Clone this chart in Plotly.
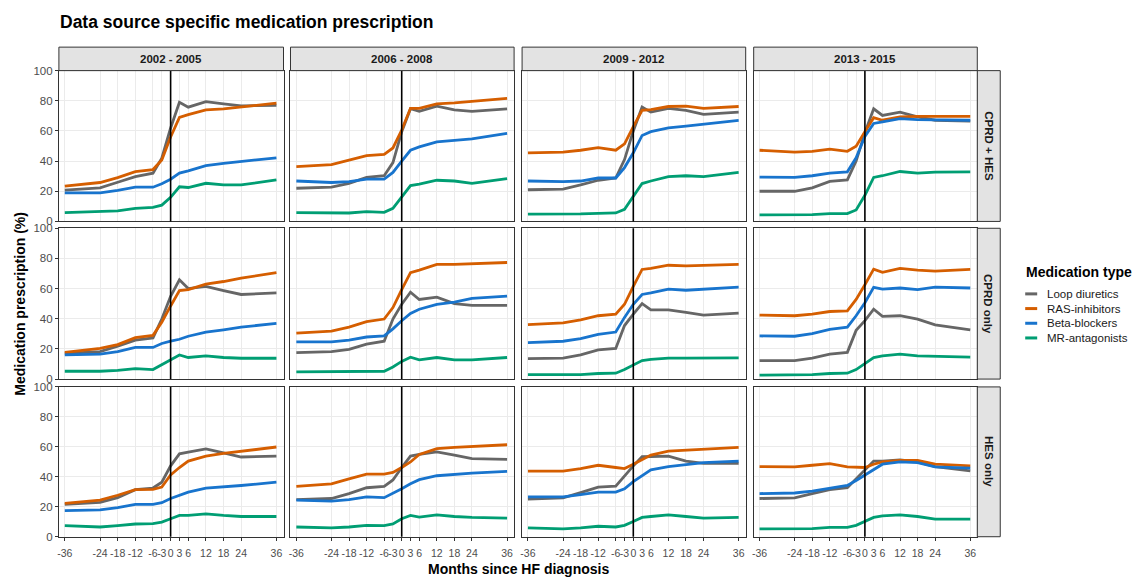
import plotly.graph_objects as go

months = [-36, -24, -18, -12, -6, -3, 0, 3, 6, 12, 18, 24, 36]
month_labels = [str(m) for m in months]
periods = ["2002 - 2005", "2006 - 2008", "2009 - 2012", "2013 - 2015"]
sources = ["CPRD + HES", "CPRD only", "HES only"]
medications = ["Loop diuretics", "RAS-inhibitors", "Beta-blockers", "MR-antagonists"]
colors = ["#666666", "#D55E00", "#1874CD", "#009E73"]

# one list per period (2002-2005, 2006-2008, 2009-2012, 2013-2015)
loop_cprd_hes = [
    [20.8, 22.3, 26.0, 29.7, 32.0, 42.0, 62.0, 79.0, 75.8, 79.4, 78.0, 76.6, 77.0],
    [22.0, 22.7, 25.3, 29.2, 30.3, 39.0, 59.5, 74.7, 73.0, 76.4, 74.0, 73.0, 74.7],
    [21.0, 21.4, 24.2, 27.3, 28.8, 41.0, 60.0, 75.8, 72.5, 75.0, 73.6, 71.0, 72.5],
    [20.0, 20.0, 22.3, 26.6, 27.5, 40.0, 58.9, 74.7, 70.3, 72.5, 69.3, 67.1, 66.5],
]
ras_cprd_hes = [
    [23.4, 25.8, 29.0, 33.0, 34.4, 40.7, 56.0, 69.0, 70.8, 74.0, 74.7, 76.0, 78.4],
    [36.4, 37.7, 40.7, 43.7, 44.4, 48.7, 60.6, 75.0, 75.0, 78.0, 78.6, 79.6, 81.6],
    [45.5, 45.9, 47.2, 48.9, 47.2, 51.5, 62.8, 73.6, 74.2, 76.2, 76.4, 75.0, 76.2],
    [47.2, 45.9, 46.5, 48.0, 46.5, 49.8, 59.5, 68.8, 67.1, 69.3, 69.7, 69.7, 69.7],
]
beta_cprd_hes = [
    [19.0, 19.0, 20.6, 22.7, 22.7, 25.0, 28.0, 32.0, 33.5, 37.0, 38.5, 39.6, 42.2],
    [26.8, 25.8, 26.4, 28.1, 28.1, 32.5, 40.0, 47.2, 49.4, 52.8, 53.7, 54.8, 58.4],
    [26.8, 26.4, 26.8, 28.8, 28.8, 35.7, 45.5, 57.0, 59.5, 62.0, 63.2, 64.5, 67.0],
    [29.4, 29.2, 30.3, 32.0, 32.9, 42.2, 56.3, 65.0, 66.0, 68.2, 67.5, 67.5, 67.1],
]
mra_cprd_hes = [
    [5.8, 6.5, 7.0, 8.7, 9.3, 10.8, 16.0, 23.0, 22.5, 25.3, 24.2, 24.2, 27.5],
    [5.8, 5.4, 5.6, 6.5, 6.0, 8.7, 16.2, 23.8, 24.7, 27.3, 26.8, 25.3, 28.4],
    [4.8, 4.8, 5.0, 5.4, 5.6, 8.0, 16.9, 25.1, 26.8, 29.7, 30.3, 29.7, 32.5],
    [4.3, 4.3, 4.5, 5.2, 5.2, 7.6, 17.3, 29.2, 30.3, 33.1, 32.0, 32.7, 32.9],
]

loop_cprd_only = [
    [17.1, 18.2, 21.9, 25.8, 27.3, 39.8, 54.9, 65.8, 60.0, 61.5, 58.7, 56.1, 57.1],
    [17.5, 18.2, 19.7, 23.2, 25.1, 39.8, 49.6, 57.6, 52.8, 54.3, 50.0, 48.9, 48.9],
    [13.6, 13.9, 16.0, 19.3, 20.3, 35.5, 43.1, 50.0, 45.9, 45.9, 44.2, 42.4, 43.7],
    [12.3, 12.3, 13.9, 16.5, 17.7, 32.3, 38.7, 46.3, 41.6, 42.0, 39.8, 35.9, 32.7],
]
ras_cprd_only = [
    [17.7, 20.3, 22.9, 27.5, 29.0, 37.7, 48.5, 58.7, 59.3, 63.0, 64.7, 66.9, 70.6],
    [30.5, 31.8, 34.4, 38.1, 39.8, 47.4, 59.3, 70.6, 72.3, 76.0, 76.0, 76.6, 77.3],
    [36.1, 37.2, 39.2, 42.0, 43.1, 49.6, 61.5, 72.7, 73.4, 75.5, 75.1, 75.5, 76.0],
    [42.4, 42.0, 43.1, 44.8, 45.2, 52.8, 62.6, 72.9, 70.8, 73.4, 72.3, 71.6, 72.7],
]
beta_cprd_only = [
    [16.0, 16.5, 18.2, 21.0, 21.0, 23.6, 25.1, 26.4, 28.4, 31.2, 32.7, 34.4, 37.0],
    [24.7, 24.7, 25.8, 27.9, 28.6, 33.3, 38.7, 43.5, 46.3, 49.6, 51.1, 53.5, 55.0],
    [24.2, 25.1, 26.8, 29.7, 31.2, 40.9, 49.6, 56.1, 57.1, 59.7, 58.9, 59.7, 61.0],
    [28.6, 28.4, 30.1, 32.9, 34.4, 42.0, 50.6, 60.8, 59.7, 60.4, 59.3, 61.0, 60.4],
]
mra_cprd_only = [
    [5.2, 5.2, 5.8, 6.9, 6.3, 9.5, 12.8, 16.0, 14.3, 15.4, 14.3, 13.8, 13.8],
    [4.8, 4.8, 4.8, 5.2, 5.2, 8.0, 11.7, 14.5, 12.8, 14.3, 12.8, 12.8, 14.3],
    [3.0, 3.0, 3.0, 3.7, 3.9, 6.3, 9.5, 12.3, 13.0, 13.9, 13.9, 13.9, 14.1],
    [2.6, 2.6, 3.0, 3.7, 3.9, 6.3, 10.6, 14.3, 15.4, 16.5, 15.4, 15.2, 14.5],
]

loop_hes_only = [
    [21.6, 22.9, 26.1, 31.4, 32.5, 36.4, 47.3, 55.3, 56.4, 58.6, 56.0, 53.2, 53.8],
    [24.8, 25.5, 28.8, 32.7, 33.6, 37.9, 46.2, 53.8, 54.9, 56.6, 54.5, 52.1, 51.6],
    [25.1, 25.9, 29.4, 33.1, 33.8, 40.7, 47.3, 53.4, 53.4, 53.8, 50.5, 49.0, 49.0],
    [25.5, 25.9, 28.8, 31.4, 32.7, 38.6, 44.0, 50.5, 50.5, 51.2, 49.9, 46.8, 44.0],
]
ras_hes_only = [
    [22.2, 24.4, 27.7, 31.4, 31.6, 33.1, 41.2, 46.2, 50.5, 53.8, 55.6, 57.1, 59.9],
    [33.6, 35.3, 38.6, 41.8, 41.8, 42.9, 46.2, 49.9, 54.9, 58.8, 59.7, 60.3, 61.4],
    [43.8, 43.8, 45.5, 47.7, 46.2, 45.5, 48.4, 51.6, 54.5, 57.1, 57.7, 58.6, 59.7],
    [46.8, 46.6, 47.7, 48.8, 46.6, 46.2, 46.2, 48.4, 49.9, 51.0, 51.0, 48.4, 47.3],
]
beta_hes_only = [
    [17.4, 17.9, 19.4, 21.6, 21.6, 22.7, 25.5, 27.7, 29.8, 32.5, 33.1, 34.2, 36.4],
    [24.4, 23.7, 24.8, 26.6, 26.1, 28.8, 32.0, 35.3, 38.1, 40.7, 41.8, 42.5, 43.6],
    [26.6, 26.6, 28.1, 29.8, 29.8, 32.0, 36.8, 40.7, 44.7, 46.8, 48.4, 49.5, 50.5],
    [28.8, 29.2, 30.5, 32.5, 34.2, 37.5, 41.2, 45.1, 48.4, 49.9, 49.5, 46.6, 45.8],
]
mra_hes_only = [
    [7.4, 6.5, 7.4, 8.5, 8.7, 9.8, 12.0, 14.2, 14.2, 15.3, 14.2, 13.5, 13.5],
    [6.5, 5.9, 6.5, 7.6, 7.4, 8.5, 12.0, 14.2, 13.1, 14.6, 13.5, 12.9, 12.4],
    [5.9, 5.2, 5.9, 7.0, 6.5, 7.6, 10.2, 12.9, 13.5, 14.6, 13.5, 12.4, 12.9],
    [5.2, 5.2, 5.4, 6.3, 6.3, 7.6, 10.2, 12.9, 13.9, 14.6, 13.5, 11.8, 11.8],
]

data = {
    "CPRD + HES": [loop_cprd_hes, ras_cprd_hes, beta_cprd_hes, mra_cprd_hes],
    "CPRD only": [loop_cprd_only, ras_cprd_only, beta_cprd_only, mra_cprd_only],
    "HES only": [loop_hes_only, ras_hes_only, beta_hes_only, mra_hes_only],
}

W, H = 1142, 577
FONT = "Liberation Sans, Arial, sans-serif"
DARK = "#333333"

# panel positions in pixels
col_px = [(57, 282), (289, 513), (521, 745), (753, 977)]
row_px = [(66, 220), (227, 381), (389, 542)]
strip_top = 42
strip_right = 1000


def fx(px):
    return px / W


def fy(py):
    return 1 - py / H


fig = go.Figure()
layout = {}
shapes = []
annotations = []

for r, source in enumerate(sources):
    for c, period in enumerate(periods):
        n = r * 4 + c + 1
        suffix = "" if n == 1 else str(n)
        for m, med in enumerate(medications):
            fig.add_trace(go.Scatter(
                x=months,
                y=data[source][m][c],
                mode="lines",
                name=med,
                showlegend=False,
                line=dict(color=colors[m], width=2.8),
                xaxis="x" + suffix,
                yaxis="y" + suffix,
            ))

        x0, x1 = col_px[c]
        y0, y1 = row_px[r]
        layout["xaxis" + suffix] = dict(
            domain=[fx(x0), fx(x1)],
            anchor="y" + suffix,
            range=[-38.0, 38.4],
            tickmode="array",
            tickvals=months,
            ticktext=month_labels,
            showticklabels=(r == 2),
            ticks="outside" if r == 2 else "",
            ticklen=3,
            tickcolor=DARK,
            tickangle=0,
            ticklabelstandoff=4,
            tickfont=dict(size=10.5, color="#4D4D4D"),
            showgrid=True,
            gridcolor="#EBEBEB",
            gridwidth=1.2,
            zeroline=False,
            showline=True,
            mirror=True,
            linecolor=DARK,
            linewidth=1,
        )
        layout["yaxis" + suffix] = dict(
            domain=[fy(y1), fy(y0)],
            anchor="x" + suffix,
            range=[0, 100],
            tickmode="array",
            tickvals=[0, 20, 40, 60, 80, 100],
            showticklabels=(c == 0),
            ticks="outside" if c == 0 else "",
            ticklen=3,
            tickcolor=DARK,
            tickfont=dict(size=11.5, color="#4D4D4D"),
            showgrid=True,
            gridcolor="#EBEBEB",
            gridwidth=1.2,
            zeroline=False,
            showline=True,
            mirror=True,
            linecolor=DARK,
            linewidth=1,
        )
        # diagnosis marker
        shapes.append(dict(
            type="line", xref="x" + suffix, yref="y" + suffix + " domain",
            x0=0, x1=0, y0=0, y1=1,
            line=dict(color="black", width=1.6),
        ))

# column strips
for c, period in enumerate(periods):
    x0, x1 = col_px[c]
    shapes.append(dict(
        type="rect", xref="paper", yref="paper",
        x0=fx(x0), x1=fx(x1), y0=fy(row_px[0][0]), y1=fy(strip_top),
        fillcolor="#E3E3E3", line=dict(color=DARK, width=1),
    ))
    annotations.append(dict(
        xref="paper", yref="paper",
        x=fx((x0 + x1) / 2), y=fy((strip_top + row_px[0][0]) / 2),
        text=period, showarrow=False,
        font=dict(family=FONT, size=11.5, color="#1A1A1A", weight="bold"),
        xanchor="center", yanchor="middle",
    ))

# row strips
for r, source in enumerate(sources):
    y0, y1 = row_px[r]
    shapes.append(dict(
        type="rect", xref="paper", yref="paper",
        x0=fx(col_px[3][1]), x1=fx(strip_right), y0=fy(y1), y1=fy(y0),
        fillcolor="#E3E3E3", line=dict(color=DARK, width=1),
    ))
    annotations.append(dict(
        xref="paper", yref="paper",
        x=fx((col_px[3][1] + strip_right) / 2), y=fy((y0 + y1) / 2),
        text=source, showarrow=False, textangle=90,
        font=dict(family=FONT, size=11.5, color="#1A1A1A", weight="bold"),
        xanchor="center", yanchor="middle",
    ))

# legend (ggplot-style short keys)
legend_x, legend_title_y, legend_item_y, legend_step = 1024, 272, 294, 15
annotations.append(dict(
    xref="paper", yref="paper", x=fx(legend_x), y=fy(legend_title_y),
    text="Medication type", showarrow=False,
    font=dict(family=FONT, size=14, color="black", weight="bold"),
    xanchor="left", yanchor="middle",
))
for m, med in enumerate(medications):
    yy = legend_item_y + m * legend_step
    shapes.append(dict(
        type="line", xref="paper", yref="paper",
        x0=fx(legend_x + 1), x1=fx(legend_x + 13), y0=fy(yy), y1=fy(yy),
        line=dict(color=colors[m], width=3),
    ))
    annotations.append(dict(
        xref="paper", yref="paper", x=fx(legend_x + 21), y=fy(yy),
        text=med, showarrow=False,
        font=dict(family=FONT, size=11.5, color="#1A1A1A"),
        xanchor="left", yanchor="middle",
    ))

annotations.append(dict(
    xref="paper", yref="paper",
    x=fx((col_px[0][0] + col_px[3][1]) / 2), y=fy(569),
    text="Months since HF diagnosis", showarrow=False,
    font=dict(family=FONT, size=14, color="black", weight="bold"),
    xanchor="center", yanchor="middle", yshift=-6,
))
annotations.append(dict(
    xref="paper", yref="paper",
    x=fx(18), y=fy((row_px[0][0] + row_px[2][1]) / 2),
    text="Medication prescription (%)", showarrow=False, textangle=-90,
    font=dict(family=FONT, size=14, color="black", weight="bold"),
    xanchor="center", yanchor="middle",
))

fig.update_layout(
    **layout,
    width=W,
    height=H,
    margin=dict(l=0, r=0, t=0, b=0),
    paper_bgcolor="white",
    plot_bgcolor="white",
    font=dict(family=FONT, color="black"),
    showlegend=False,
    title=dict(
        text="Data source specific medication prescription",
        x=fx(60), xanchor="left", y=fy(22), yanchor="middle",
        font=dict(family=FONT, size=17.5, color="black", weight="bold"),
    ),
    shapes=shapes,
    annotations=annotations,
)

fig.write_html(
    "out.html",
    config={"displayModeBar": False},
    post_script="document.body.style.margin='0';",
)
